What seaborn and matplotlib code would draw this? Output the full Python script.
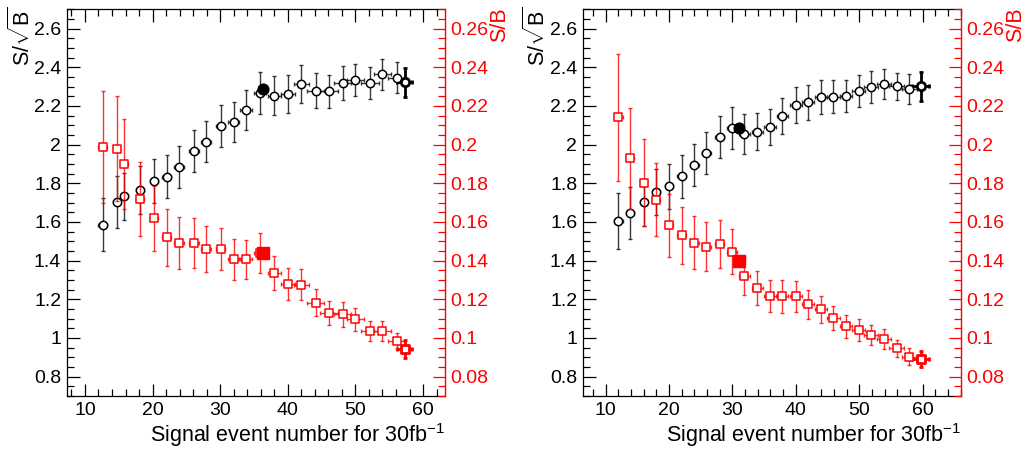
import numpy as np
import matplotlib
matplotlib.use('Agg')
import matplotlib.pyplot as plt
import seaborn as sns
from matplotlib.ticker import MultipleLocator, FuncFormatter

# values
# left panel
l_x = [12.6, 14.7, 15.8, 18.1, 20.2, 22.1, 23.9, 26.1, 27.9, 30.1, 32.0, 33.8,
       35.9, 38.0, 40.0, 42.0, 44.1, 46.1, 48.1, 50.0, 52.1, 54.0, 56.1]
l_xerr = [0.6, 0.5, 0.5, 0.6, 0.6, 0.65, 0.7, 0.7, 0.75, 0.65, 0.8, 0.85,
          0.9, 0.95, 1.0, 1.1, 1.25, 1.3, 1.3, 1.3, 1.35, 1.3, 1.3]
l_sig = [1.586, 1.703, 1.732, 1.763, 1.813, 1.834, 1.885, 1.968, 2.015, 2.096, 2.119, 2.179,
         2.268, 2.253, 2.260, 2.313, 2.278, 2.275, 2.318, 2.334, 2.320, 2.363, 2.347]
l_sig_err = [0.137, 0.136, 0.122, 0.124, 0.115, 0.112, 0.110, 0.109, 0.106, 0.107, 0.104, 0.104,
             0.110, 0.100, 0.098, 0.100, 0.091, 0.087, 0.087, 0.082, 0.082, 0.080, 0.078]
l_sb = [0.199, 0.198, 0.190, 0.172, 0.162, 0.152, 0.149, 0.149, 0.146, 0.146, 0.1406, 0.1406,
        0.144, 0.1337, 0.1278, 0.1275, 0.1182, 0.1129, 0.1122, 0.1096, 0.1036, 0.1036, 0.0985]
l_sb_err = [0.029, 0.027, 0.0235, 0.019, 0.0168, 0.0146, 0.0135, 0.0129, 0.012, 0.011, 0.0105, 0.010,
            0.0103, 0.0089, 0.0083, 0.0081, 0.0069, 0.0063, 0.0063, 0.0061, 0.0054, 0.0054, 0.0043]
# last (bold) point and chosen (filled) point
l_end = dict(x=57.3, xerr=1.1, sig=2.322, sig_err=0.076, sb=0.0945, sb_err=0.0047)
l_best = dict(x=36.3, sig=2.286, sb=0.144)

# right panel
r_x = [12.0, 13.9, 16.0, 18.0, 20.0, 22.0, 24.0, 25.9, 28.0, 29.9, 31.9, 33.9,
       35.9, 37.9, 40.0, 41.9, 43.9, 45.9, 47.9, 49.9, 51.9, 53.9, 55.9, 57.9]
r_xerr = [0.7, 0.6, 0.6, 0.6, 0.65, 0.7, 0.7, 0.75, 0.75, 0.8, 0.8, 0.85,
          0.9, 0.9, 0.9, 0.95, 0.95, 1.0, 1.0, 1.05, 1.1, 1.1, 1.15, 1.15]
r_sig = [1.605, 1.648, 1.701, 1.756, 1.784, 1.837, 1.894, 1.957, 2.040, 2.086, 2.055, 2.067,
         2.091, 2.149, 2.205, 2.220, 2.247, 2.249, 2.253, 2.277, 2.297, 2.313, 2.301, 2.286]
r_sig_err = [0.147, 0.134, 0.123, 0.120, 0.116, 0.112, 0.110, 0.109, 0.110, 0.107, 0.103, 0.096,
             0.095, 0.093, 0.094, 0.091, 0.086, 0.086, 0.083, 0.084, 0.084, 0.079, 0.070, 0.077]
r_sb = [0.2141, 0.1930, 0.1803, 0.1715, 0.1582, 0.1531, 0.1493, 0.1473, 0.1488, 0.1447, 0.1320, 0.1258,
        0.1215, 0.1215, 0.1217, 0.1174, 0.1148, 0.1103, 0.1060, 0.1041, 0.1017, 0.0995, 0.0947, 0.0902]
r_sb_err = [0.033, 0.0262, 0.0225, 0.0189, 0.0162, 0.0147, 0.0137, 0.0129, 0.0124, 0.0116, 0.010, 0.0089,
            0.0083, 0.0084, 0.008, 0.0075, 0.0069, 0.0064, 0.0058, 0.0056, 0.0052, 0.0051, 0.0045, 0.0044]
r_end = dict(x=59.7, xerr=1.3, sig=2.303, sig_err=0.075, sb=0.0890, sb_err=0.0041)
r_best = dict(x=31.0, sig=2.085, sb=0.140)

sns.set_style('ticks')
plt.rcParams['font.family'] = ['Liberation Sans', 'DejaVu Sans']
plt.rcParams['mathtext.fontset'] = 'custom'
plt.rcParams['mathtext.rm'] = 'Liberation Sans'
plt.rcParams['mathtext.it'] = 'Liberation Sans:italic'
plt.rcParams['text.color'] = 'black'
plt.rcParams['axes.labelcolor'] = 'black'
plt.rcParams['xtick.color'] = 'black'
plt.rcParams['ytick.color'] = 'black'
plt.rcParams['axes.edgecolor'] = 'black'

RED = '#ff0000'
FS = 14
fmt_g = FuncFormatter(lambda v, p: f'{v:g}')


def panel(fig, rect, xlim, x, xerr, sig, sig_err, sb, sb_err, end, best, ylab_x, sb_lab_x):
    ax = fig.add_axes(rect)
    ax.set_xlim(*xlim)
    ax.xaxis.set_major_locator(MultipleLocator(10))
    ax.xaxis.set_minor_locator(MultipleLocator(2))
    ax.set_ylim(0.7, 2.7)
    ax.yaxis.set_major_locator(MultipleLocator(0.2))
    ax.yaxis.set_minor_locator(MultipleLocator(0.05))
    ax.yaxis.set_major_formatter(fmt_g)
    ax.tick_params(axis='both', which='major', direction='in', length=9, width=0.9,
                   labelsize=FS, pad=4, top=True, right=False)
    ax.tick_params(axis='both', which='minor', direction='in', length=5, width=0.9,
                   top=True, right=False)
    ax.spines['right'].set_visible(False)
    for s in ['left', 'top', 'bottom']:
        ax.spines[s].set_linewidth(0.9)

    # S/sqrt(B) points
    ax.errorbar(x, sig, yerr=sig_err, xerr=xerr, fmt='none', ecolor='#222222',
                elinewidth=1.0, capsize=1.5, capthick=1.0, alpha=0.9, zorder=2)
    ax.errorbar([end['x']], [end['sig']], yerr=[end['sig_err']], xerr=[end['xerr']], fmt='none',
                ecolor='black', elinewidth=2.0, capsize=1.5, capthick=2.0, zorder=2)
    sns.scatterplot(x=x, y=sig, ax=ax, marker='o', s=36, color='white',
                    edgecolor='black', linewidth=1.1, zorder=3)
    sns.scatterplot(x=[end['x']], y=[end['sig']], ax=ax, marker='o', s=36, color='white',
                    edgecolor='black', linewidth=2.0, zorder=3)
    sns.scatterplot(x=[best['x']], y=[best['sig']], ax=ax, marker='o', s=60, color='black',
                    edgecolor='black', linewidth=1.0, zorder=4)
    ax.set_ylabel('')

    # S/B on the red axis
    ax2 = ax.twinx()
    ax2.set_ylim(0.07, 0.27)
    ax2.yaxis.set_major_locator(MultipleLocator(0.02))
    ax2.yaxis.set_minor_locator(MultipleLocator(0.005))
    ax2.yaxis.set_major_formatter(fmt_g)
    ax2.tick_params(axis='y', which='major', direction='in', length=9, width=0.9,
                    labelsize=FS, pad=4, colors=RED)
    ax2.tick_params(axis='y', which='minor', direction='in', length=5, width=0.9, colors=RED)
    ax2.spines['right'].set_color(RED)
    ax2.spines['right'].set_linewidth(1.0)
    for s in ['left', 'top', 'bottom']:
        ax2.spines[s].set_visible(False)

    ax2.errorbar(x, sb, yerr=sb_err, xerr=xerr, fmt='none', ecolor=RED,
                 elinewidth=1.0, capsize=1.5, capthick=1.0, alpha=0.8, zorder=2)
    ax2.errorbar([end['x']], [end['sb']], yerr=[end['sb_err']], xerr=[end['xerr']], fmt='none',
                 ecolor=RED, elinewidth=2.0, capsize=1.5, capthick=2.0, zorder=2)
    sns.scatterplot(x=x, y=sb, ax=ax2, marker='s', s=34, color='white',
                    edgecolor=RED, linewidth=1.1, zorder=3)
    sns.scatterplot(x=[end['x']], y=[end['sb']], ax=ax2, marker='s', s=34, color='white',
                    edgecolor=RED, linewidth=2.0, zorder=3)
    sns.scatterplot(x=[best['x']], y=[best['sb']], ax=ax2, marker='s', s=75, color=RED,
                    edgecolor=RED, linewidth=1.0, zorder=4)
    ax2.set_ylabel('')
    ax2.set_xlim(*xlim)

    ax.set_xlabel(r'Signal event number for 30fb$^{\mathrm{-1}}$', fontsize=FS + 1.5,
                  loc='right', labelpad=2)

    fig.text(ylab_x / 1026, 1 - 7 / 453, r'S/$\sqrt{\mathrm{B}}$', rotation=90,
             ha='center', va='top', fontsize=FS + 1.5)
    fig.text(sb_lab_x / 1026, 1 - 7 / 453, 'S/B', rotation=90, color=RED,
             ha='center', va='top', fontsize=FS + 1.5)
    return ax, ax2


fig = plt.figure(figsize=(10.26, 4.53), dpi=100)
bottom = 57 / 453
height = (396 - 9.3) / 453
width = 378 / 1026

panel(fig, [66.7 / 1026, bottom, width, height], (7.3, 63.2),
      l_x, l_xerr, l_sig, l_sig_err, l_sb, l_sb_err, l_end, l_best, 22, 500)
panel(fig, [582.7 / 1026, bottom, width, height], (6.4, 66.0),
      r_x, r_xerr, r_sig, r_sig_err, r_sb, r_sb_err, r_end, r_best, 537, 1016)

plt.savefig('out.png', dpi=100)
